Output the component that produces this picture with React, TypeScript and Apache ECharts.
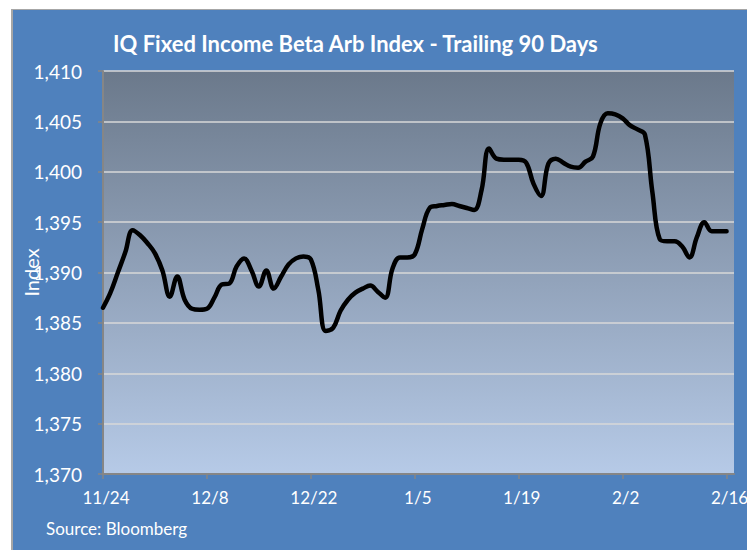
import React, { useEffect, useRef } from "react";
import * as echarts from "echarts";

const titleText = "IQ Fixed Income Beta Arb Index - Trailing 90 Days";
const sourceText = "Source: Bloomberg";
const yAxisName = "Index";
const startDate = "2014-11-24"; // first daily observation
const yMin = 1370;
const yMax = 1410;
const yStep = 5;
const xTickDays = 14; // label every two weeks
const xSpanDays = 85;

// daily index level, one per calendar day from startDate
const indexValues = [
  1386.5, 1388.0, 1390.0, 1392.0, 1394.2, 1393.7, 1392.9, 1391.9, 1390.2, 1387.6,
  1389.6, 1387.3, 1386.4, 1386.3, 1386.4, 1387.5, 1388.8, 1388.9, 1390.6, 1391.4,
  1390.2, 1388.6, 1390.2, 1388.4, 1389.6, 1390.8, 1391.4, 1391.6, 1391.3, 1388.3,
  1384.2, 1384.5, 1386.2, 1387.3, 1388.0, 1388.4, 1388.7, 1388.1, 1387.5, 1390.4,
  1391.5, 1391.5, 1391.8, 1394.3, 1396.4, 1396.6, 1396.7, 1396.8, 1396.6, 1396.4,
  1396.2, 1398.2, 1402.3, 1401.3, 1401.2, 1401.2, 1401.2, 1400.9, 1398.8, 1397.6,
  1400.8, 1401.3, 1400.9, 1400.5, 1400.4, 1401.0, 1401.5, 1404.8, 1405.8, 1405.7,
  1405.3, 1404.6, 1404.2, 1403.7, 1398.0, 1393.3, 1393.1, 1393.1, 1392.6, 1391.5,
  1393.5, 1395.0, 1394.1, 1394.1, 1394.1,
];

const FONT = "Lato";

function dayLabel(offset: number): string {
  const [y, m, d] = startDate.split("-").map(Number);
  const dt = new Date(y, m - 1, d + offset);
  return `${dt.getMonth() + 1}/${dt.getDate()}`;
}

export default function App() {
  const ref = useRef<HTMLDivElement>(null);
  useEffect(() => {
    if (!ref.current) return;
    const chart = echarts.init(ref.current, null, { renderer: "svg" });
    const seriesData = indexValues.map((v, i) => [i, v]);
    chart.setOption({
      animation: false,
      backgroundColor: "#4F81BD",
      title: {
        text: titleText,
        left: 95,
        top: 14,
        textStyle: {
          color: "#FFFFFF",
          fontFamily: FONT,
          fontWeight: "bold",
          fontSize: 22,
          lineHeight: 28,
        },
      },
      graphic: [
        {
          type: "text",
          left: 33,
          top: 510,
          style: {
            text: sourceText,
            fill: "#FFFFFF",
            font: `17px ${FONT}`,
          },
        },
      ],
      grid: {
        left: 90,
        top: 61,
        right: 13,
        bottom: 76,
        show: true,
        borderWidth: 0,
        containLabel: false,
        outerBoundsMode: "none",
        backgroundColor: new echarts.graphic.LinearGradient(0, 0, 0, 1, [
          { offset: 0, color: "#6B798B" },
          { offset: 1, color: "#B6CAE7" },
        ]),
      },
      xAxis: {
        type: "value",
        min: 0,
        max: xSpanDays,
        interval: xTickDays,
        axisLine: { show: true, lineStyle: { color: "#868686", width: 2 } },
        axisTick: { show: true, length: 5, lineStyle: { color: "#868686", width: 1.5 } },
        splitLine: { show: false },
        axisLabel: {
          color: "#FFFFFF",
          fontFamily: FONT,
          fontSize: 17,
          margin: 15,
          padding: [0, 0, 0, 6],
          showMaxLabel: false,
          formatter: (v: number) => (v % xTickDays === 0 ? dayLabel(v) : ""),
        },
      },
      yAxis: {
        type: "value",
        min: yMin,
        max: yMax,
        interval: yStep,
        name: yAxisName,
        nameLocation: "middle",
        nameRotate: 90,
        nameGap: 62,
        nameMoveOverlap: false,
        nameTextStyle: { color: "#FFFFFF", fontFamily: FONT, fontSize: 20 },
        axisLine: { show: true, lineStyle: { color: "#868686", width: 2 } },
        axisTick: { show: true, length: 5, lineStyle: { color: "#868686", width: 1.5 } },
        splitLine: { show: true, lineStyle: { color: "#D9D9D9", width: 1.5 } },
        axisLabel: {
          color: "#FFFFFF",
          fontFamily: FONT,
          fontSize: 19,
          margin: 21,
          formatter: (v: number) => v.toLocaleString("en-US"),
        },
      },
      series: [
        {
          type: "line",
          data: seriesData,
          smooth: 0.4,
          showSymbol: false,
          symbol: "none",
          lineStyle: { color: "#000000", width: 4.5, cap: "round", join: "round" },
        },
      ],
    });
    return () => chart.dispose();
  }, []);

  return (
    <div
      style={{
        position: "absolute",
        left: 11,
        top: 9,
        width: 736,
        height: 541,
        background: "#A6A6A6",
      }}
    >
      <div
        ref={ref}
        style={{ position: "absolute", left: 2, top: 1, width: 734, height: 540 }}
      />
    </div>
  );
}
